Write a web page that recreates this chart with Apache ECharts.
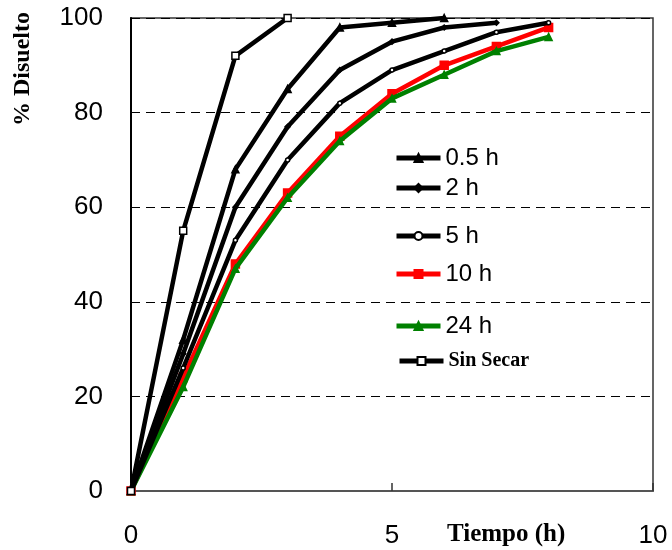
<!DOCTYPE html>
<html>
<head>
<meta charset="utf-8">
<script src="https://cdn.jsdelivr.net/npm/echarts@6/dist/echarts.min.js"></script>
<style>html,body{margin:0;padding:0;background:#fff}#c{width:672px;height:550px}</style>
</head>
<body>
<div id="c"></div>
<script>
var xTime = [0, 1, 2, 3, 4, 5, 6, 7, 8];
var sinSecar = [0, 55, 92, 100];
var h05 = [0, 32, 68, 85, 98, 99, 100];
var h2 = [0, 29, 60, 77, 89, 95, 98, 99];
var h5 = [0, 26, 53, 70, 82, 89, 93, 97, 99];
var h10 = [0, 24, 48, 63, 75, 84, 90, 94, 98];
var h24 = [0, 22, 47, 62, 74, 83, 88, 93, 96];
var xTicks = [0, 5, 10];
var yTicks = [0, 20, 40, 60, 80, 100];

function pairs(vals) { return vals.map(function (v, i) { return [xTime[i], v]; }); }

var chart = echarts.init(document.getElementById('c'));

function mkSeries(name, vals, color, symbol, size, fill, z) {
  return {
    name: name, type: 'line', data: pairs(vals), z: z,
    symbol: symbol, symbolSize: size, showSymbol: true,
    lineStyle: { color: color, width: 4.5 },
    itemStyle: { color: fill, borderColor: color, borderWidth: 1.5 },
    emphasis: { disabled: true }, animation: false
  };
}

var series = [
  mkSeries('10 h', h10, '#ff0000', 'rect', 8, '#ff0000', 2),
  mkSeries('24 h', h24, '#008000', 'triangle', 7, '#008000', 3),
  mkSeries('5 h', h5, '#000000', 'circle', 4, '#ffffff', 4),
  mkSeries('2 h', h2, '#000000', 'diamond', 5, '#000000', 5),
  mkSeries('0.5 h', h05, '#000000', 'triangle', 7, '#000000', 6),
  mkSeries('Sin Secar', sinSecar, '#000000', 'rect', 7, '#ffffff', 7)
];

var legendPos = [
  ['0.5 h', 141, false],
  ['2 h', 171, false],
  ['5 h', 219, false],
  ['10 h', 257, false],
  ['24 h', 309, false],
  ['Sin Secar', 346, true]
];
var legends = legendPos.map(function (p) {
  return {
    data: [p[0]], left: p[2] ? 392 : 389, top: p[1], orient: 'vertical',
    itemWidth: 44, itemHeight: 10, itemGap: 4,
    lineStyle: { width: 5 },
    textStyle: p[2]
      ? { fontFamily: 'Liberation Serif', fontWeight: 'bold', fontSize: 20, color: '#000' }
      : { fontFamily: 'Liberation Sans', fontSize: 24, color: '#000' },
    selectedMode: false
  };
});

chart.setOption({
  animation: false,
  grid: { left: 131, right: 19, top: 18, bottom: 59, show: true, borderColor: '#333', borderWidth: 1.5, backgroundColor: 'transparent' },
  legend: legends,
  xAxis: {
    type: 'value', min: xTicks[0], max: xTicks[xTicks.length - 1], interval: 5,
    axisLine: { show: true, onZero: false, lineStyle: { color: '#555', width: 2 } },
    axisTick: { show: true, inside: true, length: 8, lineStyle: { color: '#333', width: 1.5 } },
    axisLabel: { margin: 32, fontFamily: 'Liberation Sans', fontSize: 26, color: '#000' },
    splitLine: { show: false }
  },
  yAxis: {
    type: 'value', min: yTicks[0], max: yTicks[yTicks.length - 1], interval: 20,
    axisLine: { show: true, lineStyle: { color: '#000', width: 2 } },
    axisTick: { show: false },
    axisLabel: { margin: 28, fontFamily: 'Liberation Sans', fontSize: 26, color: '#000' },
    splitLine: { show: true, lineStyle: { color: '#000', type: [9, 6], width: 1 } }
  },
  graphic: [
    { type: 'text', left: 447, top: 522, style: { text: 'Tiempo (h)', fontFamily: 'Liberation Serif', fontWeight: 'bold', fontSize: 25, fill: '#000' } },
    { type: 'text', x: 11, y: 126, rotation: Math.PI / 2, style: { text: '% Disuelto', fontFamily: 'Liberation Serif', fontWeight: 'bold', fontSize: 24, fill: '#000' } }
  ],
  series: series
});
</script>
</body>
</html>
